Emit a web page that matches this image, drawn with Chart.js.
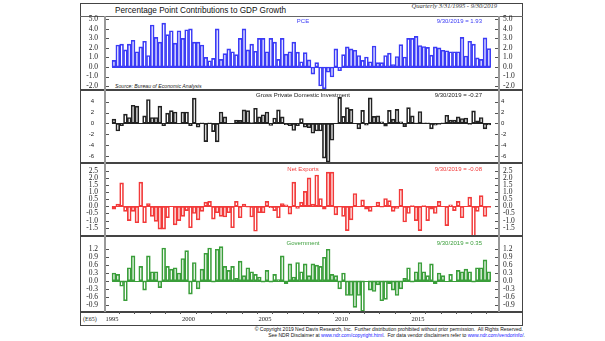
<!DOCTYPE html>
<html>
<head>
<meta charset="utf-8">
<title>Percentage Point Contributions to GDP Growth</title>
<script src="https://cdn.jsdelivr.net/npm/chart.js@4.4.1/dist/chart.umd.min.js"></script>
<style>
  html, body { margin: 0; padding: 0; background: #fff; }
  #page { position: relative; width: 605px; height: 341px; overflow: hidden; font-family: "Liberation Sans", Arial, sans-serif; }
  .rule { position: absolute; }
  .txt { position: absolute; white-space: nowrap; line-height: 1; }
  canvas { position: absolute; }
  a { color: #1a1aff; }
</style>
</head>
<body>
<div id="page">
  <div class="rule" style="left:80px;top:3px;width:441px;height:321px;border:1px solid #444"></div>
  <div class="rule" style="left:80px;top:16px;width:443px;height:1px;background:#666"></div>
  <div class="rule" style="left:80px;top:89px;width:443px;height:2px;background:#444"></div>
  <div class="rule" style="left:80px;top:162px;width:443px;height:2px;background:#444"></div>
  <div class="rule" style="left:80px;top:235px;width:443px;height:2px;background:#444"></div>
  <div class="rule" style="left:80px;top:311px;width:443px;height:2px;background:#444"></div>
  <div class="rule" style="left:104px;top:16px;width:2px;height:296px;background:#999"></div>
  <div class="rule" style="left:498px;top:16px;width:2px;height:296px;background:#999"></div>

  <div class="txt" style="left:115px;top:6.5px;font-size:8.2px;color:#111">Percentage Point Contributions to GDP Growth</div>
  <div class="txt" style="right:108px;top:3px;font-size:6.5px;font-style:italic;font-family:'Liberation Serif',serif;color:#333">Quarterly 3/31/1995 - 9/30/2019</div>
  <div class="txt" style="left:115px;top:84px;font-size:5.2px;font-style:italic;color:#222">Source: Bureau of Economic Analysis</div>
  <div class="txt" style="left:83px;top:316px;font-size:6px;font-family:'Liberation Serif',serif;color:#222">(E65)</div>
  <div class="txt" style="right:82px;top:327px;font-size:5px;color:#111">© Copyright 2019 Ned Davis Research, Inc.&nbsp; Further distribution prohibited without prior permission.&nbsp; All Rights Reserved.</div>
  <div class="txt" style="right:80px;top:332.5px;font-size:5px;color:#111">See NDR Disclaimer at <a>www.ndr.com/copyright.html</a>.&nbsp; For data vendor disclaimers refer to <a>www.ndr.com/vendorinfo/</a>.</div>

  <canvas id="pce" width="441" height="82" style="left:81px;top:12px"></canvas>
  <canvas id="gpdi" width="441" height="81" style="left:81px;top:86px"></canvas>
  <canvas id="nx" width="441" height="81" style="left:81px;top:159px"></canvas>
  <canvas id="gov" width="441" height="94" style="left:81px;top:232px"></canvas>
</div>
<script>
// quarterly 1995Q1 .. 2019Q3
const quarters = [];
for (let y = 1995; y <= 2019; y++) {
    for (let q = 1; q <= 4; q++) {
        if (y === 2019 && q === 4) break;
        quarters.push(y + 'Q' + q);
    }
}
const lastDate = '9/30/2019';
const yearLabels = [1995, 2000, 2005, 2010, 2015];

const pce = [
    0.7, 2.3, 2.4, 1.8, 2.4, 2.8, 1.6, 2.1, 2.7, 1.2,
    4.4, 3.1, 2.6, 4.6, 3.4, 3.8, 2.5, 3.8, 3.0, 3.9,
    4.0, 2.6, 2.6, 2.3, 1.0, 0.65, 0.9, 4.0, 0.8, 1.4,
    1.9, 1.6, 1.3, 3.0, 4.0, 1.8, 2.4, 1.65, 3.0, 3.0,
    1.6, 3.0, 2.6, 0.8, 3.0, 1.35, 1.6, 2.6, 1.55, 0.55,
    1.5, 0.75, -0.75, 0.45, -2.0, -2.3, -0.55, -1.05, 1.9, -0.4,
    1.3, 2.1, 1.9, 1.75, 1.2, 0.7, 1.05, 0.55, 2.2, 0.45,
    0.45, 1.2, 1.45, 0.25, 1.1, 2.35, 1.05, 3.0, 3.0, 3.2,
    2.25, 2.15, 2.05, 1.25, 2.1, 2.0, 1.75, 1.7, 1.6, 1.6,
    1.6, 3.1, 1.15, 2.7, 2.4, 0.95, 0.8, 3.05, 1.93
];
const gpdi = [
    0.8, -1.4, -0.4, 1.7, 1.1, 3.35, 3.2, 0.0, 1.4, 4.4,
    1.1, 1.1, 3.2, -0.4, 1.9, 2.35, 2.1, 0.0, 2.1, 2.1,
    -0.4, 4.65, -0.7, 0.1, -3.35, 0.1, -1.5, -3.4, 2.1, 1.2,
    0.0, 0.0, 0.6, 0.55, 2.5, 2.35, 0.15, 2.8, 1.2, 1.6,
    2.1, -0.35, 1.0, 2.5, 1.2, -0.25, -0.4, -1.3, -0.4, 0.9,
    -0.7, -0.8, -1.8, -1.4, -1.4, -6.4, -7.1, -3.1, 0.0, 4.8,
    1.3, 2.9, 2.6, 0.0, -1.0, 2.4, -0.3, 4.7, 1.3, 1.4,
    0.3, -0.5, 2.4, 0.8, 2.6, 0.3, -0.6, 2.9, 1.4, 0.1,
    2.2, 0.1, 0.1, -1.0, -0.3, -0.2, 0.1, 1.5, 0.6, 0.6,
    1.2, 0.9, 1.0, -0.2, 2.3, 0.5, 1.1, -1.0, -0.27
];
const netExports = [
    -0.2, 0.15, 1.65, -0.35, -1.0, -0.35, -1.15, 1.7, -1.15, 0.2,
    -0.7, -1.05, -1.6, -1.6, -0.8, 0.0, -1.3, -1.0, -0.7, -0.3,
    -1.5, -0.5, -0.95, -0.35, 0.3, 0.35, -0.9, -0.45, -0.7, -0.75,
    -0.45, -1.5, 0.35, -0.8, 0.15, -0.05, -0.75, -1.75, -0.45, -0.45,
    0.35, -0.1, -0.3, -0.8, 0.2, 0.1, -0.55, 1.7, -0.15, 0.3,
    1.05, 2.0, 0.15, 2.2, 0.55, -0.2, 2.4, 2.4, -0.6, -0.05,
    -0.7, -1.7, -0.95, 0.9, 0.0, 0.45, -0.2, -0.35, 0.0, 0.3,
    -0.05, 0.55, 0.4, -0.35, -0.15, 1.2, -1.1, -0.5, 0.05, -1.0,
    -1.7, 0.05, -1.0, -0.2, -0.5, 0.35, 0.0, -1.35, 0.1, -0.3,
    0.35, -0.8, 0.0, 0.65, -2.1, -0.35, 0.75, -0.7, -0.08
];
const government = [
    0.3, 0.25, -0.2, -0.75, 0.5, 0.95, 0.0, 0.55, -0.35, 0.95,
    0.35, 0.35, -0.25, 1.25, 0.55, 0.45, 0.5, 0.3, 0.85, 1.15,
    -0.5, 0.7, -0.3, 0.45, 1.05, 1.25, -0.05, 1.2, 1.3, 0.55,
    0.4, 0.55, 0.1, 0.75, 0.2, 0.5, 0.35, 0.25, 0.15, -0.05,
    0.4, -0.05, 0.25, 0.05, 0.95, -0.1, 0.65, 0.15, 0.7, 0.35,
    0.65, 0.2, 0.65, 0.6, 0.55, 0.9, 1.2, 0.25, 0.2, -0.3,
    0.3, -0.55, -0.55, -1.0, -0.55, -1.15, 0.0, -0.35, -0.4, -0.15,
    -0.75, -0.7, -0.1, -0.35, -0.55, -0.3, 0.1, 0.5, -0.05, 0.35,
    0.7, 0.35, 0.2, 0.65, -0.1, 0.3, 0.2, 0.0, 0.25, 0.0,
    0.4, 0.35, 0.45, 0.35, -0.05, 0.5, 0.5, 0.8, 0.35
];

const pceTicks = [5, 4, 3, 2, 1, 0, -1, -2];
const gpdiTicks = [4, 2, 0, -2, -4, -6];
const netExportsTicks = [2.5, 2, 1.5, 1, 0.5, 0, -0.5, -1, -1.5];
const governmentTicks = [1.2, 0.9, 0.6, 0.3, 0, -0.3, -0.6, -0.9];

// bar centre = middle of the quarter, in decimal years
function quarterPos(label) {
    const [y, q] = label.split('Q').map(Number);
    return y + (q - 0.5) / 4;
}

const serif = "'Liberation Serif', 'Times New Roman', serif";
const sans = "'Liberation Sans', Arial, sans-serif";

// little inward tick marks on both value axes + the zero line under the bars
const panelMarks = {
    id: 'panelMarks',
    afterDatasetsDraw(chart) {
        const {ctx, chartArea} = chart;
        ctx.save();
        ctx.strokeStyle = '#555';
        ctx.lineWidth = 1;
        ['y', 'yRight'].forEach(id => {
            const s = chart.scales[id];
            s.ticks.forEach(t => {
                const y = Math.round(s.getPixelForValue(t.value)) + 0.5;
                const x0 = id === 'y' ? chartArea.left + 1 : chartArea.right - 4;
                ctx.beginPath();
                ctx.moveTo(x0, y);
                ctx.lineTo(x0 + 3, y);
                ctx.stroke();
            });
        });
        const bars = chart.getDatasetMeta(0).data;
        const first = bars[0], last = bars[bars.length - 1];
        const y0 = Math.round(chart.scales.y.getPixelForValue(0)) + 0.5;
        ctx.strokeStyle = chart.data.datasets[0].borderColor;
        ctx.beginPath();
        ctx.moveTo(first.x - first.width / 2, y0);
        ctx.lineTo(last.x + last.width / 2, y0);
        ctx.stroke();
        ctx.restore();
    }
};

function valueAxis(position, range, ticks, decimals, font, padding) {
    return {
        type: 'linear',
        position: position,
        min: range[0],
        max: range[1],
        grid: { display: false, drawTicks: false },
        border: { display: false },
        afterBuildTicks: s => { s.ticks = ticks.map(v => ({ value: v })); },
        afterFit: s => {
            s.width = position === 'left' ? 24 : 23;
            s.paddingTop = 0;
            s.paddingBottom = 0;
        },
        ticks: {
            padding: padding,
            color: '#222',
            font: font,
            autoSkip: false,
            callback: v => Number(v).toFixed(decimals)
        }
    };
}

function panel(canvasId, values, color, range, ticks, decimals, opts) {
    const o = opts || {};
    const tickFont = o.tickFont || { family: serif, size: 7.5 };
    return new Chart(document.getElementById(canvasId), {
        type: 'bar',
        data: {
            datasets: [{
                data: quarters.map((q, i) => ({ x: quarterPos(q), y: values[i] })),
                backgroundColor: 'rgba(255,255,255,0)',
                borderColor: color,
                borderWidth: 1,
                borderSkipped: false,
                barPercentage: 1,
                categoryPercentage: 1,
                clip: 0
            }]
        },
        options: {
            responsive: false,
            animation: false,
            events: [],
            layout: { padding: { top: 5, bottom: o.years ? 0 : 5, left: 0, right: 0 } },
            plugins: { legend: { display: false }, tooltip: { enabled: false } },
            scales: {
                x: {
                    type: 'linear',
                    min: 1994.54,
                    max: 2020.29,
                    offset: false,
                    display: !!o.years,
                    grid: { drawOnChartArea: false, drawTicks: true, tickLength: 3, color: '#555' },
                    border: { display: false },
                    afterFit: s => { if (o.years) s.height = 15; },
                    ticks: {
                        stepSize: 1,
                        includeBounds: false,
                        autoSkip: false,
                        maxRotation: 0,
                        padding: 1,
                        color: '#222',
                        font: { family: serif, size: 6.5 },
                        callback: v => (yearLabels.includes(v) ? String(v) : '')
                    }
                },
                y: valueAxis('left', range, ticks, decimals, tickFont, o.padLeft || 7),
                yRight: valueAxis('right', range, ticks, decimals, tickFont, o.padRight || 4)
            }
        },
        plugins: [panelMarks]
    });
}

// panel captions, with the latest reading taken from each series
function caption(name, values, color, top) {
    const page = document.getElementById('page');
    const t = document.createElement('div');
    t.className = 'txt';
    t.style.cssText = `left:253px;width:100px;text-align:center;top:${top}px;font-size:6px;color:${color}`;
    t.textContent = name;
    page.appendChild(t);
    const v = document.createElement('div');
    v.className = 'txt';
    v.style.cssText = `right:123px;top:${top}px;font-size:6px;color:${color}`;
    v.textContent = `${lastDate} = ${values[values.length - 1].toFixed(2)}`;
    page.appendChild(v);
}

const blue = '#3b3bf6', black = '#222222', red = '#f23a3a', green = '#3a9e3a';

panel('pce', pce, blue, [-2.31, 5.24], pceTicks, 1);
panel('gpdi', gpdi, black, [-7.1, 5.97], gpdiTicks, 0,
      { tickFont: { family: sans, size: 6 }, padLeft: 11, padRight: 2 });
panel('nx', netExports, red, [-2.01, 2.97], netExportsTicks, 1);
panel('gov', government, green, [-1.139, 1.666], governmentTicks, 1, { years: true });

caption('PCE', pce, blue, 18);
caption('Gross Private Domestic Investment', gpdi, black, 92);
caption('Net Exports', netExports, red, 166);
caption('Government', government, green, 240);
</script>
</body>
</html>
